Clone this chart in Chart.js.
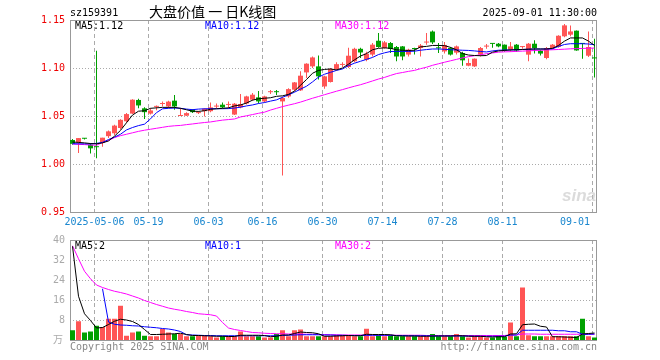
<!DOCTYPE html>
<html>
<head>
<meta charset="utf-8">
<script src="https://cdn.jsdelivr.net/npm/chart.js@4.4.1/dist/chart.umd.min.js"></script>
<style>
    html, body { margin: 0; padding: 0; background: #fff; }
    #wrap { position: relative; width: 660px; height: 360px; }
    canvas { position: absolute; left: 0; top: 0; }
</style>
</head>
<body>
<div id="wrap">
    <canvas id="kline" width="660" height="360"></canvas>
    <canvas id="vol" width="660" height="360"></canvas>
</div>
<script>
// trading days shown in the chart
const dates = [
    '2025-04-25', '2025-04-28', '2025-04-29', '2025-04-30', '2025-05-06', '2025-05-07', '2025-05-08', '2025-05-09',
    '2025-05-12', '2025-05-13', '2025-05-14', '2025-05-15', '2025-05-16', '2025-05-19', '2025-05-20', '2025-05-21',
    '2025-05-22', '2025-05-23', '2025-05-26', '2025-05-27', '2025-05-28', '2025-05-29', '2025-05-30', '2025-06-03',
    '2025-06-04', '2025-06-05', '2025-06-06', '2025-06-09', '2025-06-10', '2025-06-11', '2025-06-12', '2025-06-13',
    '2025-06-16', '2025-06-17', '2025-06-18', '2025-06-19', '2025-06-20', '2025-06-23', '2025-06-24', '2025-06-25',
    '2025-06-26', '2025-06-27', '2025-06-30', '2025-07-01', '2025-07-02', '2025-07-03', '2025-07-04', '2025-07-07',
    '2025-07-08', '2025-07-09', '2025-07-10', '2025-07-11', '2025-07-14', '2025-07-15', '2025-07-16', '2025-07-17',
    '2025-07-18', '2025-07-21', '2025-07-22', '2025-07-23', '2025-07-24', '2025-07-25', '2025-07-28', '2025-07-29',
    '2025-07-30', '2025-07-31', '2025-08-01', '2025-08-04', '2025-08-05', '2025-08-06', '2025-08-07', '2025-08-08',
    '2025-08-11', '2025-08-12', '2025-08-13', '2025-08-14', '2025-08-15', '2025-08-18', '2025-08-19', '2025-08-20',
    '2025-08-21', '2025-08-22', '2025-08-25', '2025-08-26', '2025-08-27', '2025-08-28', '2025-08-29', '2025-09-01'
];

const open = [
    1.025, 1.0225, 1.0266, 1.020, 1.018, 1.022, 1.029, 1.032, 1.0375, 1.0445, 1.0525, 1.0667, 1.058, 1.0525, 1.0595, 1.0625,
    1.060, 1.066, 1.050, 1.0503, 1.0566, 1.053, 1.055, 1.055, 1.0598, 1.0618, 1.0615, 1.0515, 1.059, 1.063, 1.067, 1.0694,
    1.0652, 1.0748, 1.0752, 1.0652, 1.0704, 1.0774, 1.0767, 1.0954, 1.1017, 1.1017, 1.0808, 1.0854, 1.099, 1.1032, 1.101, 1.107,
    1.120, 1.1086, 1.114, 1.1284, 1.1208, 1.126, 1.1219, 1.1225, 1.114, 1.1202, 1.1208, 1.1265, 1.138, 1.121, 1.1173, 1.1208,
    1.116, 1.1156, 1.1024, 1.1017, 1.114, 1.1223, 1.1255, 1.1253, 1.1243, 1.119, 1.1243, 1.1218, 1.1139, 1.1253, 1.118, 1.1104,
    1.1208, 1.122, 1.133, 1.1347, 1.1389, 1.1255, 1.1128, 1.1105
];
const high = [
    1.026, 1.027, 1.027, 1.022, 1.118, 1.0274, 1.035, 1.041, 1.0465, 1.053, 1.0675, 1.068, 1.059, 1.058, 1.061, 1.065,
    1.066, 1.072, 1.058, 1.054, 1.057, 1.055, 1.058, 1.064, 1.063, 1.064, 1.065, 1.0635, 1.073, 1.071, 1.074, 1.076,
    1.071, 1.077, 1.077, 1.070, 1.079, 1.0855, 1.0965, 1.105, 1.112, 1.113, 1.092, 1.100, 1.106, 1.106, 1.121, 1.121,
    1.121, 1.117, 1.126, 1.1365, 1.128, 1.127, 1.123, 1.123, 1.120, 1.121, 1.125, 1.1365, 1.139, 1.126, 1.127, 1.122,
    1.1235, 1.117, 1.110, 1.110, 1.122, 1.125, 1.126, 1.126, 1.1245, 1.127, 1.125, 1.123, 1.126, 1.129, 1.119, 1.122,
    1.125, 1.134, 1.1458, 1.1444, 1.139, 1.126, 1.138, 1.1305
];
const low = [
    1.020, 1.0115, 1.0255, 1.011, 1.006, 1.018, 1.027, 1.030, 1.036, 1.043, 1.052, 1.058, 1.047, 1.0515, 1.056, 1.060,
    1.058, 1.0565, 1.050, 1.050, 1.053, 1.052, 1.0496, 1.054, 1.058, 1.058, 1.058, 1.051, 1.058, 1.062, 1.066, 1.063,
    1.064, 1.073, 1.072, 0.988, 1.069, 1.076, 1.076, 1.0896, 1.100, 1.088, 1.0784, 1.085, 1.098, 1.101, 1.100, 1.106,
    1.1104, 1.107, 1.112, 1.121, 1.120, 1.1156, 1.107, 1.108, 1.112, 1.114, 1.112, 1.1243, 1.125, 1.1156, 1.115, 1.113,
    1.114, 1.1024, 1.1017, 1.101, 1.112, 1.120, 1.121, 1.1215, 1.117, 1.117, 1.117, 1.120, 1.107, 1.115, 1.113, 1.109,
    1.120, 1.121, 1.132, 1.133, 1.118, 1.1097, 1.1115, 1.0902
];
const close = [
    1.021, 1.027, 1.0263, 1.0163, 1.0175, 1.0274, 1.034, 1.040, 1.046, 1.052, 1.067, 1.061, 1.054, 1.0558, 1.0605, 1.063,
    1.065, 1.060, 1.0503, 1.053, 1.054, 1.0532, 1.0576, 1.059, 1.0602, 1.059, 1.062, 1.0628, 1.0625, 1.0704, 1.0722, 1.0652,
    1.0704, 1.0752, 1.0748, 1.0687, 1.078, 1.085, 1.092, 1.1045, 1.111, 1.0913, 1.0913, 1.099, 1.104, 1.1036, 1.1128, 1.120,
    1.1162, 1.1149, 1.1243, 1.1219, 1.1267, 1.1198, 1.112, 1.112, 1.119, 1.1198, 1.1235, 1.127, 1.1267, 1.1205, 1.124, 1.114,
    1.1225, 1.108, 1.1052, 1.1097, 1.1208, 1.1227, 1.1251, 1.1225, 1.1183, 1.1225, 1.1183, 1.1222, 1.1253, 1.1208, 1.115, 1.1208,
    1.1243, 1.1336, 1.1444, 1.1381, 1.1183, 1.1251, 1.1219, 1.110
];
const ma5 = [
    1.0229, 1.0225, 1.022, 1.0213, 1.021, 1.022, 1.024, 1.029, 1.035, 1.043, 1.051, 1.055, 1.0555, 1.058, 1.0585, 1.059,
    1.059, 1.059, 1.058, 1.0565, 1.055, 1.0548, 1.0555, 1.057, 1.0575, 1.058, 1.0585, 1.0605, 1.0615, 1.0635, 1.0665, 1.068,
    1.0685, 1.069, 1.0705, 1.071, 1.0725, 1.076, 1.082, 1.088, 1.0945, 1.0975, 1.0985, 1.099, 1.098, 1.100, 1.104, 1.1085,
    1.1125, 1.115, 1.119, 1.1205, 1.121, 1.1205, 1.119, 1.1185, 1.1183, 1.1185, 1.122, 1.1225, 1.1235, 1.1235, 1.1233, 1.1215,
    1.119, 1.115, 1.1135, 1.113, 1.1128, 1.113, 1.1165, 1.1178, 1.1183, 1.1188, 1.119, 1.1193, 1.1196, 1.1198, 1.1198, 1.1198,
    1.1205, 1.1235, 1.128, 1.1313, 1.1313, 1.1313, 1.128, 1.1235
];
const ma10 = [
    1.0211, 1.021, 1.021, 1.0209, 1.0215, 1.0225, 1.0255, 1.028, 1.031, 1.0355, 1.038, 1.040, 1.0415, 1.047, 1.0535, 1.0575,
    1.058, 1.0583, 1.058, 1.0572, 1.0566, 1.0572, 1.0575, 1.0576, 1.0576, 1.0576, 1.0577, 1.0583, 1.0592, 1.0605, 1.0615, 1.063,
    1.064, 1.0655, 1.0668, 1.0695, 1.072, 1.0748, 1.078, 1.081, 1.0855, 1.0905, 1.0935, 1.0955, 1.0975, 1.099, 1.1025, 1.105,
    1.107, 1.109, 1.111, 1.114, 1.1158, 1.1172, 1.1173, 1.1173, 1.1173, 1.1175, 1.1185, 1.1192, 1.1198, 1.1198, 1.1195, 1.119,
    1.1188, 1.1185, 1.1183, 1.1178, 1.1172, 1.1167, 1.1178, 1.1185, 1.1187, 1.1188, 1.119, 1.1193, 1.1195, 1.1198, 1.1198, 1.1198,
    1.120, 1.1225, 1.1245, 1.1253, 1.1253, 1.1253, 1.125, 1.1243
];
const ma30 = [
    1.0208, 1.0205, 1.0202, 1.0198, 1.0195, 1.0225, 1.0245, 1.0275, 1.0295, 1.031, 1.0325, 1.034, 1.0352, 1.0362, 1.0372, 1.0382,
    1.0392, 1.0398, 1.0402, 1.041, 1.0417, 1.0425, 1.0432, 1.0438, 1.0448, 1.0457, 1.0463, 1.0469, 1.049, 1.0502, 1.0515, 1.0528,
    1.054, 1.0562, 1.058, 1.0598, 1.0613, 1.0628, 1.0645, 1.0665, 1.0685, 1.0703, 1.0722, 1.074, 1.0758, 1.0775, 1.0793, 1.081,
    1.0826, 1.0845, 1.0865, 1.0885, 1.0902, 1.0923, 1.0942, 1.0953, 1.0965, 1.0975, 1.0993, 1.1008, 1.1028, 1.1044, 1.106, 1.1075,
    1.109, 1.1105, 1.1118, 1.1128, 1.1138, 1.1149, 1.1157, 1.1165, 1.1168, 1.117, 1.1173, 1.1176, 1.1179, 1.1182, 1.1185, 1.1188,
    1.119, 1.1193, 1.1196, 1.120, 1.1202, 1.1204, 1.1206, 1.1208
];

// volume in 万
const volume = [
    3.9, 7.5, 3.0, 3.4, 5.7, 5.2, 8.5, 8.5, 13.7, 1.7, 3.0, 3.4, 1.7, 1.5, 1.5, 4.4,
    3.0, 2.4, 2.4, 1.5, 1.5, 1.7, 1.7, 1.5, 1.0, 1.5, 1.5, 1.5, 3.4, 1.5, 1.5, 1.5,
    1.0, 1.0, 2.4, 3.9, 1.5, 3.9, 4.2, 1.5, 1.5, 1.5, 1.5, 1.5, 1.9, 1.9, 1.9, 1.5,
    1.5, 4.5, 1.5, 1.9, 1.5, 1.9, 1.5, 1.5, 1.5, 1.5, 1.5, 1.5, 2.4, 1.5, 1.5, 1.5,
    2.4, 1.5, 1.0, 1.5, 1.5, 1.0, 1.0, 1.8, 1.2, 7.0, 1.5, 21.0, 1.9, 1.5, 1.5, 1.5,
    1.5, 1.5, 1.5, 1.5, 1.5, 8.5, 1.5, 1.0
];
const volMa5 = [
    37.5, 17.5, 10.5, 7.8, 4.8, 5.0, 6.2, 7.5, 8.3, 8.0, 7.4, 6.2, 4.2, 2.2, 2.2, 2.3,
    2.4, 2.5, 2.7, 2.2, 1.8, 1.8, 1.7, 1.6, 1.5, 1.5, 1.4, 1.4, 1.9, 1.9, 1.9, 1.9,
    1.8, 1.3, 1.5, 2.0, 2.0, 2.6, 3.2, 3.0, 2.9, 2.5, 1.5, 1.5, 1.6, 1.7, 1.8, 1.7,
    1.7, 2.3, 2.2, 2.2, 2.2, 2.1, 1.7, 1.6, 1.6, 1.6, 1.5, 1.5, 1.6, 1.6, 1.6, 1.6,
    1.7, 1.7, 1.5, 1.5, 1.5, 1.3, 1.2, 1.3, 1.3, 2.4, 2.5, 6.1, 6.3, 6.4, 5.5, 5.2,
    1.3, 1.3, 1.2, 1.1, 1.0, 2.4, 2.6, 2.8
];
const volMa10 = [
    null, null, null, null, null, 20.5, 7.2, 6.3, 6.0, 5.9, 5.7, 5.6, 5.3, 5.1, 4.9, 4.6,
    4.4, 4.0, 3.4, 2.1, 2.0, 1.9, 1.8, 1.8, 1.7, 1.7, 1.7, 1.7, 1.7, 1.7, 1.7, 1.7,
    1.7, 1.7, 1.7, 1.8, 1.9, 2.0, 2.1, 2.1, 2.1, 2.1, 2.0, 2.0, 1.9, 1.9, 1.8, 1.8,
    1.8, 1.9, 1.9, 1.9, 1.9, 1.9, 1.8, 1.8, 1.7, 1.7, 1.7, 1.7, 1.6, 1.6, 1.6, 1.6,
    1.6, 1.6, 1.6, 1.5, 1.5, 1.5, 1.5, 1.5, 1.5, 2.0, 2.0, 3.9, 3.9, 3.9, 3.9, 3.9,
    3.9, 3.7, 3.7, 3.3, 3.3, 2.3, 2.3, 2.4
];
const volMa30 = [
    37.7, 32.5, 27.5, 24.5, 22.0, 21.0, 20.2, 19.5, 19.0, 18.4, 17.6, 16.8, 15.8, 15.0, 14.2, 13.5,
    12.8, 12.3, 11.9, 11.4, 11.0, 10.5, 10.3, 10.1, 9.6, 7.0, 4.8, 4.2, 3.8, 3.4, 3.0, 2.9,
    2.7, 2.6, 2.5, 2.5, 2.4, 2.4, 2.4, 2.3, 2.3, 2.2, 2.2, 2.1, 2.1, 2.0, 2.0, 2.0,
    2.0, 2.0, 2.0, 2.0, 1.9, 1.9, 1.9, 1.9, 1.9, 1.9, 1.9, 1.8, 1.8, 1.8, 1.8, 1.8,
    1.8, 1.8, 1.8, 1.8, 1.8, 1.8, 1.8, 1.8, 1.8, 2.0, 2.0, 2.4, 2.4, 2.4, 2.3, 2.3,
    2.3, 2.3, 2.3, 2.3, 2.3, 2.3, 2.3, 2.3
];

const priceTicks = [0.95, 1.00, 1.05, 1.10, 1.15];
const volTicks = [0, 8, 16, 24, 32, 40];
const dateTicks = ['2025-05-06', '2025-05-19', '2025-06-03', '2025-06-16', '2025-06-30', '2025-07-14', '2025-07-28', '2025-08-11', '2025-09-01'];

const RED = '#ff5555';
const GREEN = '#00a000';
const MONO = '10px "DejaVu Sans Mono"';

const up = open.map((o, i) => close[i] >= o);
const candleColor = up.map(u => u ? RED : GREEN);
const xy = arr => arr.map((v, i) => ({ x: i, y: v })).filter(p => p.y !== null);

// x runs in trading-day index, 6px per day, first candle centred 2.5px in
const xScale = {
    type: 'linear',
    display: false,
    offset: false,
    min: -2.5 / 6,
    max: -2.5 / 6 + 527 / 6
};

function drawFrame(chart, hValues, vert) {
    const { ctx, chartArea: a, scales: { x, y } } = chart;
    ctx.save();
    ctx.lineWidth = 1;
    ctx.strokeStyle = '#aaa';
    ctx.setLineDash([1, 2]);
    hValues.forEach(v => {
        const py = Math.round(y.getPixelForValue(v)) + 0.5;
        ctx.beginPath(); ctx.moveTo(a.left, py); ctx.lineTo(a.right, py); ctx.stroke();
    });
    ctx.setLineDash([4, 3]);
    vert.forEach(px => {
        ctx.beginPath(); ctx.moveTo(px, a.top); ctx.lineTo(px, a.bottom); ctx.stroke();
    });
    ctx.setLineDash([]);
    ctx.strokeStyle = '#999';
    ctx.strokeRect(a.left + 0.5, a.top + 0.5, a.right - a.left - 1, a.bottom - a.top);
    ctx.restore();
}

function gridX(chart) {
    return dateTicks.map(d => Math.floor(chart.scales.x.getPixelForValue(dates.indexOf(d)) - 2) + 0.5);
}

function text(ctx, s, x, y, color, font, align) {
    ctx.font = font || MONO;
    ctx.fillStyle = color;
    ctx.textAlign = align || 'left';
    ctx.textBaseline = 'middle';
    ctx.fillText(s, x, y);
}

const priceDeco = {
    id: 'priceDeco',
    beforeDatasetsDraw(chart) {
        drawFrame(chart, [1.00, 1.05, 1.10], gridX(chart));
    },
    afterDraw(chart) {
        const ctx = chart.ctx;
        ctx.save();
        text(ctx, 'sz159391', 70, 13, '#000');
        text(ctx, '大盘价值 一 日K线图', 149, 12, '#000', '14px "Noto Sans CJK SC"');
        text(ctx, '2025-09-01 11:30:00', 597, 13, '#000', MONO, 'right');
        text(ctx, 'MA5:1.12', 75, 26, '#000');
        text(ctx, 'MA10:1.12', 205, 26, '#0000ff');
        text(ctx, 'MA30:1.12', 335, 26, '#ff00ff');
        // date labels under the price panel
        gridX(chart).forEach((px, k) => {
            const s = k === 0 ? dateTicks[k] : dateTicks[k].slice(5);
            ctx.font = MONO;
            const w = ctx.measureText(s).width;
            let cx = px;
            if (cx + w / 2 > 590) cx = 590 - w / 2;
            text(ctx, s, cx, 222, '#1a87cf', MONO, 'center');
        });
        // watermark
        text(ctx, 'sina', 596, 196, 'rgba(190,190,190,0.55)', 'italic bold 17px "Liberation Sans"', 'right');
        ctx.restore();
    }
};

const volDeco = {
    id: 'volDeco',
    beforeDatasetsDraw(chart) {
        drawFrame(chart, [8, 16, 24, 32], gridX(chart));
    },
    afterDraw(chart) {
        const ctx = chart.ctx;
        ctx.save();
        text(ctx, 'MA5:2', 75, 246, '#000');
        text(ctx, 'MA10:1', 205, 246, '#0000ff');
        text(ctx, 'MA30:2', 335, 246, '#ff00ff');
        text(ctx, '万', 63, 339, '#aaa', '10px "Noto Sans CJK SC"', 'right');
        text(ctx, 'Copyright 2025 SINA.COM', 70, 347, '#888');
        text(ctx, 'http://finance.sina.com.cn', 597, 347, '#888', MONO, 'right');
        ctx.restore();
    }
};

function lineSet(arr, color) {
    return {
        type: 'line', data: xy(arr), borderColor: color, borderWidth: 1,
        pointRadius: 0, tension: 0, order: 0, spanGaps: false
    };
}

new Chart(document.getElementById('kline'), {
    type: 'bar',
    data: {
        datasets: [
            lineSet(ma5, '#000000'),
            lineSet(ma10, '#0000ff'),
            lineSet(ma30, '#ff00ff'),
            {
                data: open.map((o, i) => ({ x: i, y: [o, close[i]] })),
                backgroundColor: candleColor, barThickness: 5, minBarLength: 1,
                grouped: false, inflateAmount: 0, order: 1
            },
            {
                data: low.map((l, i) => ({ x: i, y: [l, high[i]] })),
                backgroundColor: candleColor, barThickness: 1,
                grouped: false, inflateAmount: 0, order: 2
            }
        ]
    },
    options: {
        responsive: false,
        animation: false,
        layout: { padding: { left: 0, top: 20, right: 63, bottom: 148 } },
        plugins: { legend: { display: false }, tooltip: { enabled: false } },
        scales: {
            x: xScale,
            y: {
                min: priceTicks[0], max: priceTicks[priceTicks.length - 1],
                afterBuildTicks: s => { s.ticks = priceTicks.map(v => ({ value: v })); },
                afterFit: s => { s.width = 70; },
                grid: { display: false, drawTicks: false },
                border: { display: false },
                ticks: {
                    padding: 5, color: '#ee0000',
                    font: { family: 'DejaVu Sans Mono', size: 10 },
                    callback: v => v.toFixed(2)
                }
            }
        }
    },
    plugins: [priceDeco]
});

new Chart(document.getElementById('vol'), {
    type: 'bar',
    data: {
        datasets: [
            lineSet(volMa5, '#000000'),
            lineSet(volMa10, '#0000ff'),
            lineSet(volMa30, '#ff00ff'),
            {
                data: volume.map((v, i) => ({ x: i, y: v })),
                backgroundColor: candleColor, barThickness: 5,
                grouped: false, inflateAmount: 0, order: 1
            }
        ]
    },
    options: {
        responsive: false,
        animation: false,
        layout: { padding: { left: 0, top: 240, right: 63, bottom: 20 } },
        plugins: { legend: { display: false }, tooltip: { enabled: false } },
        scales: {
            x: xScale,
            y: {
                min: volTicks[0], max: volTicks[volTicks.length - 1],
                afterBuildTicks: s => { s.ticks = volTicks.map(v => ({ value: v })); },
                afterFit: s => { s.width = 70; },
                grid: { display: false, drawTicks: false },
                border: { display: false },
                ticks: {
                    padding: 5, color: '#aaa',
                    font: { family: 'DejaVu Sans Mono', size: 10 },
                    callback: v => v === 0 ? '' : String(v)
                }
            }
        }
    },
    plugins: [volDeco]
});
</script>
</body>
</html>
